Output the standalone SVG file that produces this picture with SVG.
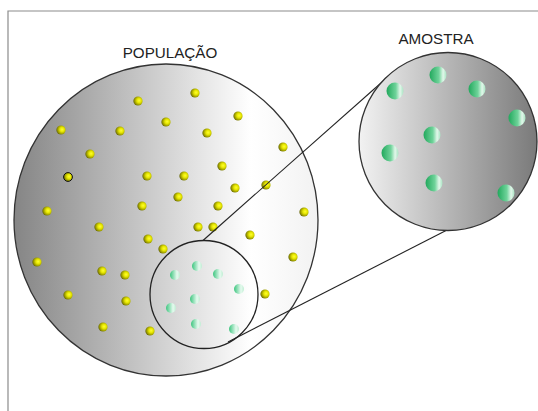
<svg xmlns="http://www.w3.org/2000/svg" width="538" height="411" viewBox="0 0 538 411">
<style>
.frame{stroke:#8c8c8c;stroke-width:1.2;fill:none}
.big{stroke:#333;stroke-width:1.3}
.sub{fill:none;stroke:#222;stroke-width:1.3}
.y{fill:url(#gy)}
.yo{fill:url(#gy);stroke:#111;stroke-width:1}
.g{fill:url(#gg)}
.G{fill:url(#gG)}
.conn{stroke:#222;stroke-width:1.1;fill:none}
.lbl{font-family:"Liberation Sans",Arial,sans-serif;font-size:15.2px;fill:#222;text-anchor:middle}
</style>
<defs>
<linearGradient id="gpop" x1="14" y1="0" x2="318" y2="0" gradientUnits="userSpaceOnUse">
<stop offset="0" stop-color="#858585"/>
<stop offset="0.78" stop-color="#ffffff"/>
<stop offset="1" stop-color="#f2f2f2"/>
</linearGradient>
<linearGradient id="gam" x1="359" y1="0" x2="537" y2="0" gradientUnits="userSpaceOnUse">
<stop offset="0" stop-color="#f2f2f2"/>
<stop offset="1" stop-color="#7a7a7a"/>
</linearGradient>
<radialGradient id="gy" cx="0.62" cy="0.45" r="0.7">
<stop offset="0" stop-color="#ffff30"/>
<stop offset="0.35" stop-color="#e6e600"/>
<stop offset="0.75" stop-color="#8c8c00"/>
<stop offset="1" stop-color="#404000"/>
</radialGradient>
<linearGradient id="gg" x1="0" y1="0" x2="1" y2="0">
<stop offset="0" stop-color="#3cc57e"/>
<stop offset="0.7" stop-color="#e6faef"/>
<stop offset="1" stop-color="#bfeed3"/>
</linearGradient>
<linearGradient id="gG" x1="0" y1="0" x2="1" y2="0">
<stop offset="0" stop-color="#21a85c"/>
<stop offset="0.55" stop-color="#6fd39a"/>
<stop offset="0.8" stop-color="#e2f7ea"/>
<stop offset="1" stop-color="#a9e4c3"/>
</linearGradient>
</defs>
<path class="frame" d="M8,411 V11 H538"/>
<g id="populacao">
<ellipse class="big" cx="166" cy="220" rx="152" ry="156" fill="url(#gpop)"/>
<text class="lbl" x="170" y="57.5">POPULAÇÃO</text>
<g id="populacao-pontos">
<circle class="y" cx="138" cy="101" r="4.6"/>
<circle class="y" cx="166" cy="122" r="4.6"/>
<circle class="y" cx="61" cy="130" r="4.6"/>
<circle class="y" cx="120" cy="131" r="4.6"/>
<circle class="y" cx="90" cy="154" r="4.6"/>
<circle class="yo" cx="68" cy="177" r="4.4"/>
<circle class="y" cx="147" cy="176" r="4.6"/>
<circle class="y" cx="142" cy="206" r="4.6"/>
<circle class="y" cx="47" cy="211" r="4.6"/>
<circle class="y" cx="99" cy="227" r="4.6"/>
<circle class="y" cx="195" cy="93" r="4.6"/>
<circle class="y" cx="238" cy="116" r="4.6"/>
<circle class="y" cx="207" cy="133" r="4.6"/>
<circle class="y" cx="283" cy="147" r="4.6"/>
<circle class="y" cx="222" cy="166" r="4.6"/>
<circle class="y" cx="184" cy="176" r="4.6"/>
<circle class="y" cx="235" cy="188" r="4.6"/>
<circle class="y" cx="266" cy="185" r="4.6"/>
<circle class="y" cx="178" cy="197" r="4.6"/>
<circle class="y" cx="218" cy="206" r="4.6"/>
<circle class="y" cx="304" cy="212" r="4.6"/>
<circle class="y" cx="198" cy="227" r="4.6"/>
<circle class="y" cx="213" cy="227" r="4.6"/>
<circle class="y" cx="148" cy="239" r="4.6"/>
<circle class="y" cx="163" cy="249" r="4.6"/>
<circle class="y" cx="37" cy="262" r="4.6"/>
<circle class="y" cx="102" cy="271" r="4.6"/>
<circle class="y" cx="125" cy="275" r="4.6"/>
<circle class="y" cx="68" cy="295" r="4.6"/>
<circle class="y" cx="126" cy="301" r="4.6"/>
<circle class="y" cx="103" cy="327" r="4.6"/>
<circle class="y" cx="150" cy="331" r="4.6"/>
<circle class="y" cx="250" cy="235" r="4.6"/>
<circle class="y" cx="293" cy="257" r="4.6"/>
<circle class="y" cx="265" cy="294" r="4.6"/>
</g>
</g>
<g id="subconjunto">
<circle class="sub" cx="204" cy="294.5" r="54"/>
<circle class="g" cx="197" cy="266" r="5"/>
<circle class="g" cx="175" cy="275" r="5"/>
<circle class="g" cx="218" cy="274" r="5"/>
<circle class="g" cx="239" cy="289" r="5"/>
<circle class="g" cx="195" cy="299" r="5"/>
<circle class="g" cx="171" cy="308" r="5"/>
<circle class="g" cx="196" cy="324" r="5"/>
<circle class="g" cx="234" cy="329" r="5"/>
</g>
<g id="conectores">
<line class="conn" x1="203" y1="240.5" x2="390" y2="75"/>
<line class="conn" x1="228" y1="342" x2="449" y2="229"/>
</g>
<g id="amostra">
<circle class="big" cx="448" cy="141.5" r="89" fill="url(#gam)"/>
<text class="lbl" x="436" y="43.5">AMOSTRA</text>
<circle class="G" cx="438" cy="75" r="8.5"/>
<circle class="G" cx="395" cy="91" r="8.5"/>
<circle class="G" cx="477" cy="89" r="8.5"/>
<circle class="G" cx="517" cy="118" r="8.5"/>
<circle class="G" cx="432" cy="135" r="8.5"/>
<circle class="G" cx="390" cy="153" r="8.5"/>
<circle class="G" cx="434" cy="183" r="8.5"/>
<circle class="G" cx="506" cy="193" r="8.5"/>
</g>
</svg>
